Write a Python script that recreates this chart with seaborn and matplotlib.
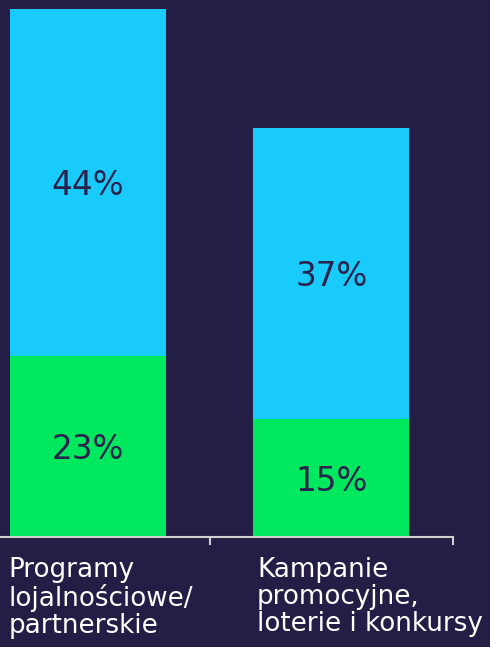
import pandas as pd
import matplotlib.pyplot as plt
import seaborn as sns

categories = ["Programy\nlojalnościowe/\npartnerskie", "Kampanie\npromocyjne,\nloterie i konkursy"]
bottom_vals = [23, 15]
top_vals = [44, 37]

BG = "#241e46"
CYAN = "#19cbfb"
GREEN = "#00e85e"
TXT = "#28224d"

df = pd.DataFrame({"cat": categories, "bottom": bottom_vals, "top": top_vals})
df["total"] = df["bottom"] + df["top"]

sns.set_theme(style="white")
plt.rcParams["font.family"] = ["DejaVu Sans"]

fig = plt.figure(figsize=(4.9, 6.47), dpi=100, facecolor=BG)
ax = fig.add_axes([-0.0689, 0.170, 0.9934, 0.830])
ax.set_facecolor(BG)

sns.barplot(data=df, x="cat", y="total", color=CYAN, width=0.64, saturation=1, linewidth=0, ax=ax)
sns.barplot(data=df, x="cat", y="bottom", color=GREEN, width=0.64, saturation=1, linewidth=0, ax=ax)

ax.set_xlim(-0.5, 1.5)
ax.set_ylim(0, 68.2)

# value labels centred in each segment
for i, (b, t) in enumerate(zip(bottom_vals, top_vals)):
    ax.text(i, b / 2 - 0.4, f"{b}%", ha="center", va="center", color=TXT, fontsize=23.5)
    ax.text(i, b + t / 2 - 0.4, f"{t}%", ha="center", va="center", color=TXT, fontsize=23.5)

for s in ["top", "right", "left"]:
    ax.spines[s].set_visible(False)
ax.spines["bottom"].set_color("#d0d0d0")
ax.spines["bottom"].set_linewidth(1.5)
ax.set_yticks([])
ax.set_xticks([0.5, 1.5])
ax.set_xticklabels([])
ax.tick_params(axis="x", bottom=True, length=6, width=1.5, color="#d0d0d0")
ax.set_xlabel("")
ax.set_ylabel("")

trans = ax.get_xaxis_transform()
for i, lab in enumerate(categories):
    ax.text(i - 0.325 + 0.02 * i, -0.037, lab, transform=trans, ha="left", va="top",
            color="white", fontsize=18.8, linespacing=1.05, clip_on=False)

fig.savefig("out.png", dpi=100, facecolor=BG)
